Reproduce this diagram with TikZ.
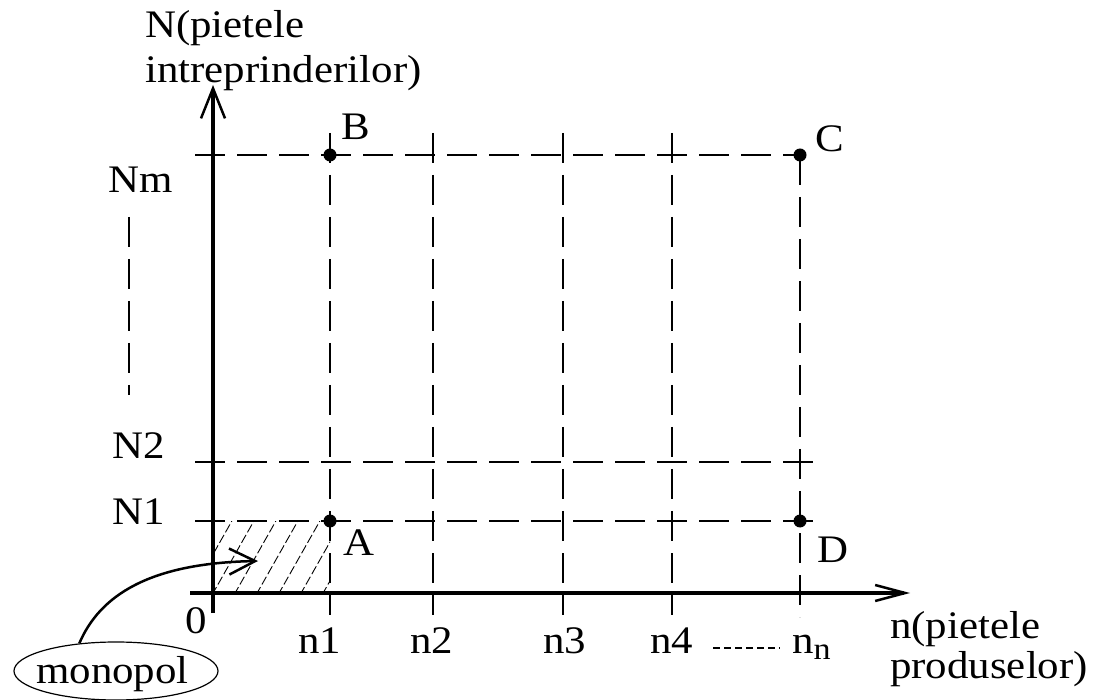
\documentclass[tikz,border=0pt]{standalone}
\usepackage{fontspec}
\setmainfont[FakeStretch=1.1]{Liberation Serif}
\usetikzlibrary{arrows.meta,shapes.geometric}
\begin{document}
\begin{tikzpicture}[x=1pt,y=-1pt,
  font=\fontsize{39}{45}\selectfont,
  gridline/.style={line width=1.5pt, dash pattern=on 30pt off 12pt},
  axisline/.style={line width=3.5pt},
  ptdot/.style={circle, fill=black, inner sep=0pt, minimum size=13pt},
  lbl/.style={inner sep=0pt, anchor=base west},
  hatchline/.style={line width=0.9pt, dash pattern=on 9pt off 3pt}]
\useasboundingbox (0,0) rectangle (1101,700);

% hatched monopoly area
\begin{scope}
  \clip (213,521) rectangle (330,593);
  \foreach \i in {0,...,8} {
    \draw[hatchline] (168+\i*22,595) -- ++(43,-76);
  }
\end{scope}

% coordinates of grid
\coordinate (B) at (330,155);
\coordinate (C) at (800,155);
\coordinate (A) at (330,521);
\coordinate (D) at (800,521);

% horizontal dashed lines
\coordinate (hNm0) at (195,155);
\coordinate (hN20) at (195,462);
\coordinate (hN21) at (818,462);
\coordinate (hN10) at (195,521);
\coordinate (hN11) at (817,521);
\draw[gridline] (hNm0) -- (C);
\draw[gridline] (hN20) -- (hN21);
\draw[gridline] (hN10) -- (hN11);

% vertical dashed lines
\foreach \x/\nm in {330/v1,433/v2,563/v3,672/v4} {
  \coordinate (\nm t) at (\x,133);
  \coordinate (\nm b) at (\x,615);
  \draw[gridline] (\nm t) -- (\nm b);
}
\coordinate (vnb) at (800,617);
\draw[gridline] (C) -- (vnb);

% dashed marker between Nm and N2
\coordinate (vdt) at (129,217);
\coordinate (vdb) at (129,395);
\draw[gridline] (vdt) -- (vdb);

% axes
\coordinate (yb) at (213,613);
\coordinate (yt) at (213,85);
\coordinate (xl) at (190,593);
\coordinate (xr) at (910,593);
\draw[axisline, -{Straight Barb[length=30pt,width=24pt,line width=2.5pt]}] (yb) -- (yt);
\draw[axisline, -{Straight Barb[length=30pt,width=16pt,line width=2.5pt]}] (xl) -- (xr);

% points
\node[ptdot] (pB) at (B) {};
\node[ptdot] (pC) at (C) {};
\node[ptdot] (pA) at (A) {};
\node[ptdot] (pD) at (D) {};

% point labels
\node[lbl] (lB) at (341,140) {B};
\node[lbl] (lC) at (815,152) {C};
\node[lbl] (lA) at (343,555) {A};
\node[lbl] (lD) at (817,562) {D};

% left labels
\node[lbl] (lNm) at (108,193) {Nm};
\node[lbl] (lN2) at (112,459) {N2};
\node[lbl] (lN1) at (112,525) {N1};
\node[lbl] (l0) at (185,633) {0};

% bottom labels
\node[lbl] (ln1) at (298,653) {n1};
\node[lbl] (ln2) at (410,653) {n2};
\node[lbl] (ln3) at (543,653) {n3};
\node[lbl] (ln4) at (650,653) {n4};
\coordinate (dl) at (713,648);
\coordinate (dr) at (780,648);
\draw[line width=1.2pt, dash pattern=on 7pt off 4pt] (dl) -- (dr);
\node[lbl] (lnn) at (792,653) {n\raisebox{-6pt}{\fontsize{31}{31}\selectfont n}};

% axis titles
\node[lbl, align=left, anchor=north west] (ytitle) at (145,10) {N(pietele\\intreprinderilor)};
\node[lbl, align=left, anchor=north west, font=\fontsize{39}{40}\selectfont] (xtitle) at (890,611) {n(pietele\\produselor)};

% monopol
\node[draw, ellipse, line width=1.2pt, inner sep=0pt, minimum width=204pt, minimum height=58pt] (mono) at (116,671) {};
\node[lbl] (monotext) at (36,683) {monopol};
\coordinate (mtip) at (258,561);
\draw[line width=2.5pt, -{Straight Barb[length=26pt,width=26pt]}] (mono.143) .. controls (100,595) and (150,563) .. (mtip);
\end{tikzpicture}
\end{document}
